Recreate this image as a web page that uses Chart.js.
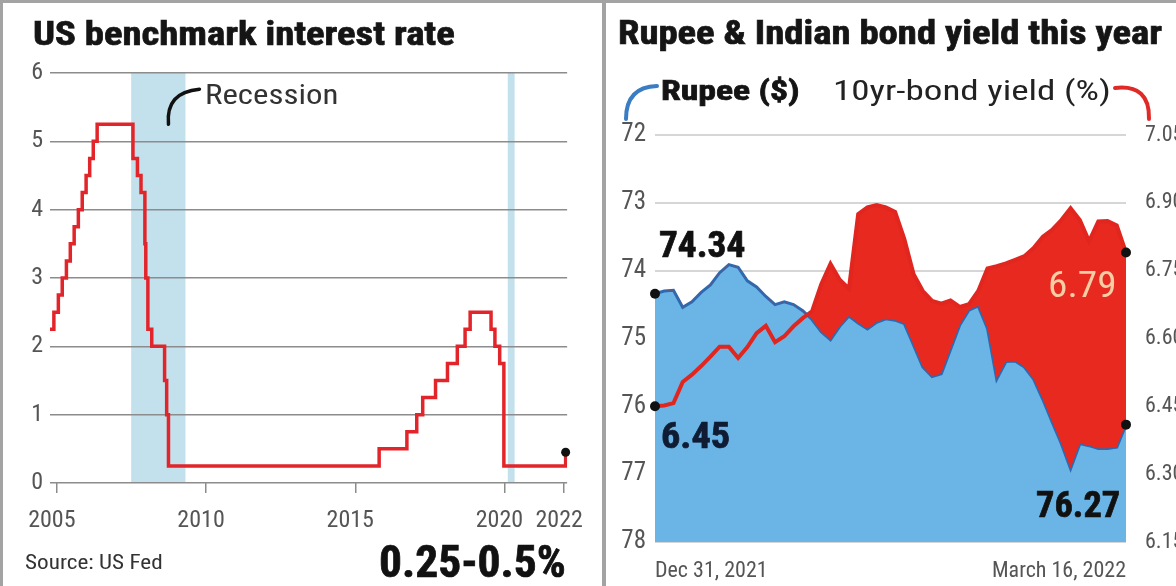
<!DOCTYPE html>
<html>
<head>
<meta charset="utf-8">
<script src="https://cdn.jsdelivr.net/npm/chart.js@4.4.1/dist/chart.umd.min.js"></script>
<style>
  html, body { margin: 0; padding: 0; background: #fff; }
  #wrap { position: relative; width: 1176px; height: 586px; overflow: hidden; background: #fff; }
  .frame { position: absolute; background: #a3a3a3; }
  canvas { position: absolute; top: 0; }
  .lbl { position: absolute; white-space: nowrap; line-height: 1;
         font-family: 'Liberation Sans Narrow', 'Roboto Condensed', 'Arial Narrow', Roboto, sans-serif; }
  .heavy { font-weight: 700; -webkit-text-stroke: 0.7px currentColor; }
</style>
</head>
<body>
<div id="wrap">
  <div class="frame" style="left:0;top:0;width:1176px;height:3px"></div>
  <div class="frame" style="left:0;top:0;width:3px;height:586px"></div>
  <div class="frame" style="left:602px;top:0;width:4px;height:586px"></div>

  <canvas id="rate" width="602" height="586" style="left:0"></canvas>
  <canvas id="fx" width="569" height="586" style="left:607px"></canvas>

  <!-- left panel text -->
  <div class="lbl heavy" data-x="33" data-cy="33" data-w="422" style="font-size:34px;color:#151515">US benchmark interest rate</div>
  <div class="lbl" data-x="205" data-cy="95" data-w="134" style="font-size:27px;color:#333">Recession</div>
  <div class="lbl" data-x="25" data-cy="562" data-w="138" style="font-size:20px;color:#333">Source: US Fed</div>
  <div class="lbl heavy" data-x="379" data-cy="562" data-w="187" style="font-size:44px;color:#111">0.25-0.5%</div>

  <!-- right panel text -->
  <div class="lbl heavy" data-x="618" data-cy="32" data-w="544" style="font-size:34px;color:#151515">Rupee &amp; Indian bond yield this year</div>
  <div class="lbl heavy" data-x="661" data-cy="91" data-w="139" style="font-size:28px;color:#141414">Rupee ($)</div>
  <div class="lbl" data-x="833" data-cy="91" data-w="278" style="font-size:28px;color:#222">10yr-bond yield (%)</div>

  <!-- value labels, placed from the chart's own points -->
  <div class="lbl heavy" id="lblRupeeStart" data-w="86" style="font-size:36px;color:#111">74.34</div>
  <div class="lbl heavy" id="lblYieldStart" data-w="69" style="font-size:36px;color:#0f1c33">6.45</div>
  <div class="lbl" id="lblYieldEnd" data-w="69" style="font-size:37px;color:#f7cda6">6.79</div>
  <div class="lbl heavy" id="lblRupeeEnd" data-w="84" style="font-size:36px;color:#111">76.27</div>
</div>

<script>
// ---------- US benchmark interest rate (step changes) ----------
const rateYears = [2004.77, 2004.9, 2005.05, 2005.18, 2005.32, 2005.45, 2005.58, 2005.72, 2005.85, 2005.98, 2006.1, 2006.22, 2006.35,
                   2007.55, 2007.7, 2007.82, 2007.95, 2007.98, 2008.05, 2008.18, 2008.61, 2008.68, 2008.74,
                   2015.8, 2016.73, 2017.06, 2017.26, 2017.69, 2018.09, 2018.42, 2018.68, 2018.85,
                   2019.55, 2019.68, 2019.84, 2019.98, 2022.05];
const rateValues = [2.25, 2.5, 2.75, 3.0, 3.25, 3.5, 3.75, 4.0, 4.25, 4.5, 4.75, 5.0, 5.25,
                    4.75, 4.5, 4.25, 3.5, 3.0, 2.25, 2.0, 1.5, 1.0, 0.25,
                    0.5, 0.75, 1.0, 1.25, 1.5, 1.75, 2.0, 2.25, 2.5,
                    2.25, 2.0, 1.75, 0.25, 0.45];
const yearTicks = [2005, 2010, 2015, 2020, 2022];
const rateTicks = [0, 1, 2, 3, 4, 5, 6];
const recessions = [[2007.49, 2009.31], [2020.11, 2020.34]];

// ---------- Rupee & 10yr bond yield, Dec 31 2021 - Mar 16 2022 ----------
const tradeDays = ['Dec 31', 'Jan 3', 'Jan 4', 'Jan 5', 'Jan 6', 'Jan 7', 'Jan 10', 'Jan 11', 'Jan 12', 'Jan 13', 'Jan 14',
                   'Jan 17', 'Jan 18', 'Jan 19', 'Jan 20', 'Jan 21', 'Jan 24', 'Jan 25', 'Jan 27', 'Jan 28', 'Jan 31',
                   'Feb 1', 'Feb 2', 'Feb 3', 'Feb 4', 'Feb 7', 'Feb 8', 'Feb 9', 'Feb 10', 'Feb 11', 'Feb 14', 'Feb 15',
                   'Feb 16', 'Feb 17', 'Feb 18', 'Feb 21', 'Feb 22', 'Feb 23', 'Feb 24', 'Feb 25', 'Feb 28',
                   'Mar 2', 'Mar 3', 'Mar 4', 'Mar 7', 'Mar 8', 'Mar 9', 'Mar 10', 'Mar 11', 'Mar 14', 'Mar 15', 'Mar 16'];
const rupee = [74.34, 74.30, 74.29, 74.54, 74.46, 74.32, 74.21, 74.03, 73.91, 73.95,
               74.15, 74.24, 74.38, 74.50, 74.46, 74.50, 74.59, 74.72, 74.90, 75.02,
               74.82, 74.67, 74.77, 74.86, 74.76, 74.71, 74.73, 74.78, 75.10, 75.42,
               75.56, 75.52, 75.16, 74.80, 74.58, 74.52, 74.85, 75.60, 75.34, 75.33,
               75.42, 75.60, 75.90, 76.23, 76.55, 76.92, 76.55, 76.58, 76.62, 76.62,
               76.60, 76.27];
const bondYield = [6.45, 6.452, 6.457, 6.504, 6.52, 6.539, 6.56, 6.582, 6.582, 6.557,
                   6.581, 6.612, 6.628, 6.592, 6.605, 6.627, 6.645, 6.66, 6.72, 6.765,
                   6.73, 6.71, 6.875, 6.89, 6.895, 6.89, 6.88, 6.82, 6.742, 6.705,
                   6.683, 6.677, 6.684, 6.670, 6.676, 6.705, 6.755, 6.760, 6.766, 6.774,
                   6.782, 6.80, 6.825, 6.84, 6.862, 6.888, 6.862, 6.815, 6.859, 6.860,
                   6.850, 6.79];
const rupeeTicks = [72, 73, 74, 75, 76, 77, 78];
const yieldTicks = [6.15, 6.30, 6.45, 6.60, 6.75, 6.90, 7.05];
const xTickLabels = ['Dec 31, 2021', 'March 16, 2022'];

const narrow = "'Liberation Sans Narrow', 'Roboto Condensed', 'Arial Narrow', Roboto, sans-serif";

// squeeze a text label to the width it has in the print graphic
function place(el, x, cy, alignRight) {
    const w = parseFloat(el.dataset.w);
    const fs = parseFloat(getComputedStyle(el).fontSize);
    const natural = el.offsetWidth;
    el.style.top = (cy - fs * 0.5) + 'px';
    if (alignRight) {
        el.style.left = (x - natural) + 'px';
        el.style.transformOrigin = '100% 50%';
    } else {
        el.style.left = x + 'px';
        el.style.transformOrigin = '0 50%';
    }
    el.style.transform = 'scaleX(' + (w / natural) + ')';
}
document.querySelectorAll('.lbl[data-x]').forEach(el => {
    place(el, parseFloat(el.dataset.x), parseFloat(el.dataset.cy), false);
});

function dot(ctx, x, y, r) {
    ctx.beginPath();
    ctx.arc(x, y, r, 0, Math.PI * 2);
    ctx.fillStyle = '#111';
    ctx.fill();
}

const recessionPlugin = {
    id: 'recession',
    beforeDraw(chart) {
        const {ctx, chartArea: a, scales: {x}} = chart;
        ctx.save();
        ctx.fillStyle = '#c3e1ec';
        recessions.forEach(([s, e]) => {
            const x0 = x.getPixelForValue(s), x1 = x.getPixelForValue(e);
            ctx.fillRect(x0, a.top, x1 - x0, a.bottom - a.top);
        });
        ctx.restore();
    },
    afterDraw(chart) {
        const {ctx, scales: {x, y}} = chart;
        const bx = x.getPixelForValue(recessions[0][1]);
        const by = y.getPixelForValue(5.25);
        ctx.save();
        ctx.strokeStyle = '#111';
        ctx.lineWidth = 3.5;
        ctx.lineCap = 'round';
        ctx.beginPath();
        ctx.moveTo(bx - 17, by);
        ctx.quadraticCurveTo(bx - 20, by - 32, bx + 14, by - 35);
        ctx.stroke();
        const pts = chart.getDatasetMeta(0).data;
        const last = pts[pts.length - 1];
        dot(ctx, last.x, last.y, 4.5);
        ctx.restore();
    }
};

new Chart(document.getElementById('rate'), {
    type: 'line',
    data: {
        datasets: [{
            data: rateYears.map((yr, i) => ({x: yr, y: rateValues[i]})),
            stepped: true,
            borderColor: '#e2252b',
            borderWidth: 3.5,
            pointRadius: 0,
            fill: false,
        }]
    },
    options: {
        responsive: false,
        animation: false,
        layout: { padding: { top: 73, right: 27, bottom: 0, left: 0 } },
        plugins: { legend: { display: false }, tooltip: { enabled: false } },
        scales: {
            x: {
                type: 'linear',
                min: 2004.77,
                max: 2022.1,
                afterBuildTicks: s => { s.ticks = yearTicks.map(v => ({value: v})); },
                afterFit: s => { s.height = 103; },
                grid: { drawOnChartArea: false, drawTicks: true, tickLength: 10, color: '#8c8c8c', lineWidth: 1.5 },
                border: { display: false },
                ticks: { callback: v => String(v), color: '#555', font: { family: narrow, size: 24 },
                         padding: 14, labelOffset: -5, maxRotation: 0, autoSkip: false }
            },
            y: {
                min: 0,
                max: 6,
                afterBuildTicks: s => { s.ticks = rateTicks.map(v => ({value: v})); },
                afterFit: s => { s.width = 50; },
                grid: { color: '#8c8c8c', lineWidth: 1.5, drawTicks: false },
                border: { display: false },
                ticks: { color: '#555', font: { family: narrow, size: 24 }, padding: 7 }
            }
        }
    },
    plugins: [recessionPlugin]
});

const fxPlugin = {
    id: 'fxMarks',
    afterDraw(chart) {
        const {ctx} = chart;
        const off = chart.canvas.offsetLeft;
        const r = chart.getDatasetMeta(0).data;
        const b = chart.getDatasetMeta(1).data;
        const rs = r[0], re = r[r.length - 1], bs = b[0], be = b[b.length - 1];
        ctx.save();
        dot(ctx, rs.x, rs.y, 5);
        dot(ctx, bs.x, bs.y, 5);
        dot(ctx, re.x, re.y, 5);
        dot(ctx, be.x, be.y, 5);

        // legend hooks
        ctx.lineWidth = 4;
        ctx.lineCap = 'round';
        ctx.strokeStyle = '#3a7dc3';
        ctx.beginPath();
        ctx.moveTo(626 - off, 119);
        ctx.quadraticCurveTo(626 - off, 87, 657 - off, 86);
        ctx.stroke();
        ctx.strokeStyle = '#e02a27';
        ctx.beginPath();
        ctx.moveTo(1115 - off, 88);
        ctx.quadraticCurveTo(1150 - off, 84, 1149 - off, 119);
        ctx.stroke();
        ctx.restore();

        place(document.getElementById('lblRupeeStart'), off + rs.x + 4, rs.y - 49, false);
        place(document.getElementById('lblYieldStart'), off + bs.x + 6, bs.y + 30, false);
        place(document.getElementById('lblYieldEnd'), off + be.x - 9, be.y + 32, true);
        place(document.getElementById('lblRupeeEnd'), off + re.x - 6, re.y + 80, true);
    }
};

new Chart(document.getElementById('fx'), {
    type: 'line',
    data: {
        labels: tradeDays,
        datasets: [
            {
                label: 'Rupee ($)',
                data: rupee,
                yAxisID: 'y',
                order: 2,
                borderColor: '#2a6bb3',
                borderWidth: 3,
                backgroundColor: '#6ab5e6',
                fill: 'start',
                pointRadius: 0,
                tension: 0,
            },
            {
                label: '10yr-bond yield (%)',
                data: bondYield,
                yAxisID: 'y1',
                order: 1,
                borderColor: '#e1261f',
                borderWidth: 4,
                fill: { target: 0, above: '#e8291f', below: 'rgba(0,0,0,0)' },
                pointRadius: 0,
                tension: 0,
            }
        ]
    },
    options: {
        responsive: false,
        animation: false,
        layout: { padding: { top: 135, right: 0, bottom: 0, left: 0 } },
        plugins: { legend: { display: false }, tooltip: { enabled: false } },
        scales: {
            x: {
                grid: { display: false },
                border: { display: false },
                afterFit: s => { s.height = 44; },
                ticks: {
                    autoSkip: false, maxRotation: 0, align: 'inner', padding: 8,
                    color: '#555', font: { family: narrow, size: 22 },
                    callback: (v, i) => i === 0 ? xTickLabels[0] : (i === tradeDays.length - 1 ? xTickLabels[1] : null)
                }
            },
            y: {
                position: 'left',
                reverse: true,
                min: 72,
                max: 78,
                afterBuildTicks: s => { s.ticks = rupeeTicks.map(v => ({value: v})); },
                afterFit: s => { s.width = 48; },
                grid: { color: '#d6d6d6', lineWidth: 2, drawTicks: false },
                border: { display: false },
                ticks: { color: '#555', font: { family: narrow, size: 25 }, padding: 9 }
            },
            y1: {
                position: 'right',
                min: 6.15,
                max: 7.05,
                afterBuildTicks: s => { s.ticks = yieldTicks.map(v => ({value: v})); },
                afterFit: s => { s.width = 50; },
                grid: { display: false },
                border: { display: false },
                ticks: { color: '#555', font: { family: narrow, size: 22 }, padding: 11, callback: v => v.toFixed(2) }
            }
        }
    },
    plugins: [fxPlugin]
});
</script>
</body>
</html>
